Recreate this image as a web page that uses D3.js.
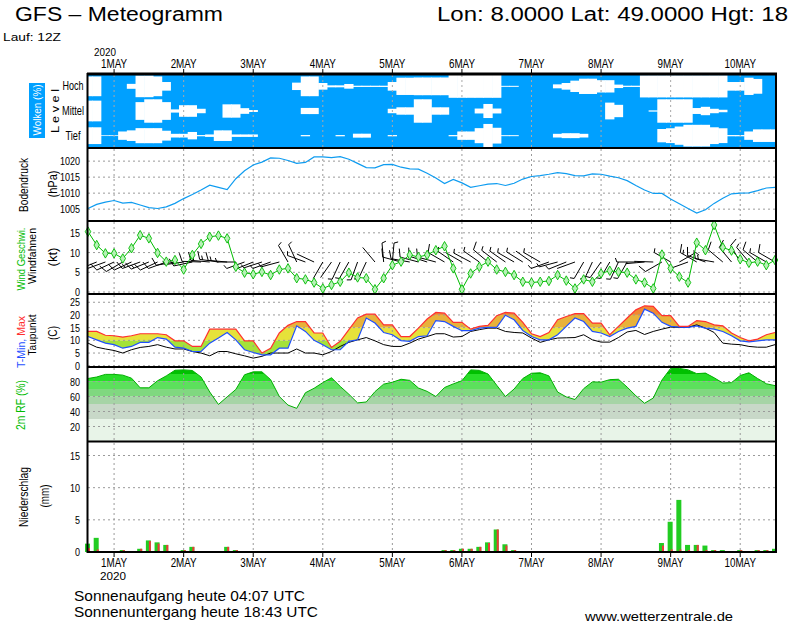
<!DOCTYPE html>
<html>
<head>
<meta charset="utf-8">
<script src="https://cdn.jsdelivr.net/npm/d3@7"></script>
<style>
  body { margin: 0; background: #fff; }
  svg { display: block; }
</style>
</head>
<body>
<svg id="chart"></svg>
<script>
// GFS run 12Z, 3-hourly steps, hours counted from 1 May 00Z
const steps = d3.range(-9, 229, 3);
const dayNames = ["1MAY", "2MAY", "3MAY", "4MAY", "5MAY", "6MAY", "7MAY", "8MAY", "9MAY", "10MAY"];
const dayHours = [0, 24, 48, 72, 96, 120, 144, 168, 192, 216];

// cloud cover (%) per level
const cloudHigh = [80,80,0,0,0,20,88,88,80,35, 0,0,0,0,0,0,0,0,0,0, 0,0,0,0,30,80,80,27,8,8,
  19,5,5,5,5,35,70,70,72,72, 72,72,93,93,93,93,93,93,4,4, 0,0,0,0,16,27,46,62,62,50,
  50,14,5,5,90,90,90,90,90,90, 90,90,90,90,35,35,70,60,0,0];
const cloudMid = [84,84,0,0,0,0,72,95,95,72, 13,47,47,18,0,0,54,54,23,8, 0,0,0,0,0,25,25,0,0,0,
  0,0,0,0,0,18,30,30,95,95, 30,30,0,0,0,20,57,20,0,0, 0,0,0,0,0,0,0,0,0,0,
  68,50,0,0,0,5,95,95,95,95, 24,34,18,10,0,0,0,0,0,0];
const cloudLow = [68,68,3,3,34,43,61,61,61,40, 15,15,30,5,10,43,43,10,10,10, 0,0,0,0,0,5,0,0,0,5,
  0,16,16,0,0,5,0,0,0,0, 0,0,5,34,34,61,95,64,4,4, 0,0,0,0,15,20,20,15,0,0,
  0,0,0,0,0,0,54,60,74,88, 88,88,68,60,5,5,34,51,51,51];

// surface pressure (hPa)
const pressure = [1005.2,1006.5,1007.2,1007.7,1006.9,1007.1,1006.3,1005.5,1005.2,1005.7,
  1006.8,1008.3,1009.6,1011.0,1012.5,1011.8,1011.1,1014.5,1017.0,1018.8,
  1019.7,1021.0,1020.9,1020.2,1019.3,1019.6,1021.3,1021.3,1021.1,1021.4,
  1020.6,1019.3,1018.0,1017.9,1018.9,1019.0,1018.1,1017.6,1017.5,1016.2,
  1014.7,1013.0,1014.3,1013.2,1011.8,1012.3,1012.8,1013.0,1012.4,1013.1,
  1014.4,1015.2,1015.5,1015.9,1016.4,1016.1,1015.5,1015.4,1016.0,1015.9,
  1015.3,1014.8,1013.9,1012.4,1011.0,1009.9,1009.9,1008.2,1006.7,1005.2,
  1003.8,1004.8,1006.8,1008.4,1009.8,1010.0,1010.1,1010.8,1011.6,1011.8];

// wind speed (kt) and direction (deg, coming from)
const windSpeed = [15.3,11.9,9.8,9.8,8.5,11.1,14.4,13.6,9.9,7.7, 8.1,5.7,9.4,12.2,14.0,14.3,13.6,6.4,4.9,4.5,
  5.1,4.3,5.7,6.0,3.5,3.2,2.4,0.9,1.8,2.6, 4.9,3.7,3.5,0.7,3.5,6.8,7.7,9.4,8.9,9.4,
  10.6,11.6,6.0,0.7,4.7,6.4,7.7,5.7,5.1,4.3, 2.6,2.4,2.6,2.8,4.3,2.9,0.9,3.2,2.6,4.7,
  5.4,5.1,4.9,3.2,2.4,0.9,9.5,6.0,3.9,2.4, 12.5,10.6,17.0,11.3,10.5,8.3,7.4,7.7,6.8,8.1];
const windDir = [245,248,250,245,240,245,250,248,245,250, 260,262,258,272,275,278,275,270, 250,248,252,250,255,
  330,335, 290,295, 210,215,205,210, 200,205, 320, 355,5, 285,280,285,288,285, 300,305,300,298,
  305,310,308,305,300,302,305,300, 250,255,248,250, 210,205,215,210,205,210, 270,265,272,
  240,300,60,250,300,290,280, 310,320,330,320,310,300,300];

// 2m temperature min / max and dew point (C)
const tMax = [13.5,13.5,12.0,11.8,11.3,11.8,12.6,12.6,12.6,12.2, 9.8,9.8,7.6,7.6,14.4,14.4,14.4,14.4,9.8,9.8,
  5.0,6.9,12.9,15.9,17.4,17.4,12.9,12.9,7.2,9.6, 14.2,18.8,20.3,20.3,16.1,16.1,11.5,11.5,14.8,18.4,
  21.0,20.7,17.1,17.1,14.4,15.5,15.9,19.7,21.0,20.7, 17.1,12.6,11.5,13.1,18.1,19.4,20.5,20.5,16.8,16.8,
  12.2,15.5,18.8,22.0,23.6,23.4,19.7,19.7,15.5,15.5, 17.8,17.4,16.1,15.7,12.9,11.1,9.8,10.5,12.2,13.1];
const tMin = [11.5,10.2,8.9,8.3,6.9,7.6,9.2,9.2,11.1,10.5, 7.3,6.9,5.6,5.6,8.9,10.9,13.1,10.2,6.3,5.2,
  4.3,4.3,6.9,6.9,15.7,13.5,10.0,8.3,6.3,6.3, 9.6,10.2,18.8,16.8,13.1,12.2,9.9,9.6,11.5,11.8,
  17.8,17.4,15.5,13.8,13.8,14.8,15.1,15.1,19.9,18.1, 13.9,11.5,10.2,10.2,12.2,15.5,18.8,17.4,13.5,12.9,
  11.5,13.5,14.8,15.5,22.3,20.7,17.1,15.5,15.2,15.1, 15.7,14.8,14.4,13.5,11.8,9.8,9.4,9.8,10.2,10.2];
const dewPoint = [8.9,7.3,6.6,6.0,5.0,6.3,7.2,7.6,8.3,7.3, 6.6,6.6,5.6,5.0,3.9,5.6,5.6,4.7,3.9,3.0,
  3.7,5.0,5.0,5.0,6.6,5.0,5.0,4.3,5.6,7.6, 9.2,10.2,11.1,9.8,8.3,7.6,7.6,8.9,10.5,11.5,
  12.6,12.6,11.3,11.5,13.5,14.2,14.8,14.8,13.5,13.1, 12.9,10.9,9.2,10.2,10.9,11.0,11.1,12.2,10.2,9.3,
  9.3,11.1,13.3,13.9,12.3,13.5,14.4,15.2,15.1,15.1, 16.1,14.8,13.1,8.9,8.5,8.3,7.6,7.3,7.3,8.3];

// 2m relative humidity (%)
const relHum = [84,86,89.5,89.5,88.5,84.5,71.6,71.6,81,87.5, 95,95.5,94.7,86,66,49.4,59.5,69.4,89,92.9,
  92.9,82.5,60,48.5,44.2,65,71,78.5,85,73.5, 63,51.5,52.7,66.5,76.5,79,83,81.5,71.3,66.8,
  60,72,76.8,81,95.5,94.8,90,75,60,70, 84,91,91.6,87.5,66,59.5,56,70.5,79.5,79.1,
  82.5,83,72.5,61,51,58,82,97.5,97.5,95.5, 90.5,91.2,85,78,78.5,88,91.6,84,77,74.5];

// precipitation per 3h (mm): total and convective
const precTotal = [1.3,2.2,0,0,0.3,0.1,0.5,1.8,1.5,1.1, 0.1,0.3,0.8,0,0.1,0.1,0.8,0.3,0,0,
  0,0,0,0,0,0,0,0,0,0, 0,0,0,0.1,0,0,0,0,0,0,
  0,0.3,0.3,0.5,0.5,0.8,1.5,3.5,1.2,0.3, 0.1,0,0,0,0,0.1,0,0,0,0,
  0,0,0,0,0,0,1.4,4.7,8.1,1.1, 1.1,1.0,0.3,0.3,0,0.3,0.1,0.3,0.3,0.5];
const precConv = [0.6,0.4,0,0,0.3,0.1,0.5,1.7,1.3,1.1, 0.1,0.3,0.8,0,0.1,0.1,0.8,0.3,0,0,
  0,0,0,0,0,0,0,0,0,0, 0,0,0,0.1,0,0,0,0,0,0,
  0,0.3,0.3,0.5,0.5,0.8,1.4,3.5,1.0,0.3, 0.1,0,0,0,0,0.1,0,0,0,0,
  0,0,0,0,0,0,1.0,0.4,0.4,0.3, 1.1,0.3,0.3,0.1,0,0.3,0.1,0.3,0.3,0.5];

const FONT = "'Liberation Sans',Arial,sans-serif";
const X0 = 88, X1 = 775;

const svg = d3.select("#chart")
  .attr("width", 800)
  .attr("height", 625)
  .style("font-family", FONT);

const x = d3.scaleLinear().domain([-9, 228]).range([X0, X1]);
const stepW = x(3) - x(0);

const yP = d3.scaleLinear().domain([1001.3, 1024.1]).range([221, 148]);
const yW = d3.scaleLinear().domain([-0.5, 18]).range([294, 221]);
const yT = d3.scaleLinear().domain([-0.5, 28.25]).range([367, 294]);
const yH = d3.scaleLinear().domain([0, 100]).range([441.5, 366.5]);
const yR = d3.scaleLinear().domain([0, 17.1]).range([552, 442]);

const defs = svg.append("defs");
function clipRect(id, x0, y0, x1, y1) {
  defs.append("clipPath").attr("id", id)
    .append("rect").attr("x", x0).attr("y", y0).attr("width", x1 - x0).attr("height", y1 - y0);
  return "url(#" + id + ")";
}

function hGrid(scale, ticks) {
  svg.append("g").selectAll("line").data(ticks).join("line")
    .attr("x1", X0).attr("x2", X1)
    .attr("y1", d => scale(d)).attr("y2", d => scale(d))
    .attr("stroke", "#9a9a9a").attr("stroke-dasharray", "2,3");
}

function vGrid(y0, y1, color) {
  svg.append("g").selectAll("line").data(dayHours).join("line")
    .attr("x1", d => x(d)).attr("x2", d => x(d))
    .attr("y1", y0).attr("y2", y1)
    .attr("stroke", color || "#9a9a9a").attr("stroke-dasharray", "2,3");
}

// narrow tick labels (the original uses a condensed stroke font)
function yLabels(scale, ticks) {
  svg.append("g")
    .selectAll("text").data(ticks).join("text")
    .attr("transform", d => `translate(80,${scale(d) + 4}) scale(0.82,1)`)
    .attr("text-anchor", "end").attr("font-size", 11)
    .text(d => d);
}

function sideLabel(txt, cx, cy, size, len, color) {
  return svg.append("text")
    .attr("transform", `translate(${cx},${cy}) rotate(-90)`)
    .attr("text-anchor", "middle").attr("font-size", size)
    .attr("fill", color || "#000")
    .attr("textLength", len).attr("lengthAdjust", "spacingAndGlyphs")
    .text(txt);
}

// ---------- header ----------
svg.append("text").attr("x", 15).attr("y", 21).attr("font-size", 20)
  .attr("textLength", 208).attr("lengthAdjust", "spacingAndGlyphs")
  .text("GFS \u2013 Meteogramm");
svg.append("text").attr("x", 437).attr("y", 21).attr("font-size", 20)
  .attr("textLength", 351).attr("lengthAdjust", "spacingAndGlyphs")
  .text("Lon: 8.0000 Lat: 49.0000 Hgt: 18");
svg.append("text").attr("x", 3).attr("y", 41).attr("font-size", 10)
  .attr("textLength", 58).attr("lengthAdjust", "spacingAndGlyphs")
  .text("Lauf: 12Z");

svg.append("text").attr("x", x(0) - 20).attr("y", 56).attr("font-size", 10)
  .attr("textLength", 22).attr("lengthAdjust", "spacingAndGlyphs").text("2020");
svg.append("g").selectAll("text").data(dayNames).join("text")
  .attr("transform", (d, i) => `translate(${x(dayHours[i])},68) scale(0.82,1)`)
  .attr("text-anchor", "middle").attr("font-size", 12)
  .text(d => d);

// ---------- clouds ----------
const bandH = (148 - 74) / 3;
const cloudClip = clipRect("cloudClip", X0, 74, X1, 148);
svg.append("rect").attr("x", X0).attr("y", 74).attr("width", X1 - X0).attr("height", 74)
  .attr("fill", "#00a0ff");
const gCloud = svg.append("g").attr("clip-path", cloudClip);
[cloudHigh, cloudMid, cloudLow].forEach((level, k) => {
  const cy = 74 + bandH * (k + 0.5);
  gCloud.append("g").selectAll("rect").data(level).join("rect")
    .attr("x", (d, i) => x(steps[i]) - stepW / 2 - 0.3)
    .attr("width", stepW + 0.6)
    .attr("y", d => cy - d / 100 * bandH / 2)
    .attr("height", d => d / 100 * bandH)
    .attr("fill", "#fff");
});
vGrid(75, 147, "#a8a8a8");

svg.append("rect").attr("x", 29).attr("y", 83).attr("width", 16).attr("height", 55).attr("fill", "#00a0ff");
sideLabel("Wolken (%)", 41, 110, 11, 51, "#fff");
sideLabel("L e v e l", 59, 111, 11, 44);
const levelNames = ["Hoch", "Mittel", "Tief"];
const levelLen = [21, 22, 15];
svg.append("g").selectAll("text").data(levelNames).join("text")
  .attr("x", 73).attr("y", (d, i) => 74 + bandH * (i + 0.5) + 4)
  .attr("text-anchor", "middle").attr("font-size", 12)
  .attr("textLength", (d, i) => levelLen[i]).attr("lengthAdjust", "spacingAndGlyphs")
  .text(d => d);

// ---------- pressure ----------
hGrid(yP, [1005, 1010, 1015, 1020]);
vGrid(149, 220);
svg.append("path").datum(pressure)
  .attr("d", d3.line().x((d, i) => x(steps[i])).y(d => yP(d)))
  .attr("fill", "none").attr("stroke", "#0f9cf0").attr("stroke-width", 1.2);
yLabels(yP, [1005, 1010, 1015, 1020]);
sideLabel("Bodendruck", 28, 185, 12, 54);
sideLabel("(hPa)", 57, 184, 12, 27);

// ---------- wind ----------
hGrid(yW, [0, 5, 10, 15]);
vGrid(222, 293);
const gBarb = svg.append("g").attr("clip-path", clipRect("windClip", X0, 221, X1, 294))
  .attr("stroke", "#000").attr("stroke-width", 1).attr("fill", "none");
windDir.forEach((dir, i) => {
  const cx = x(steps[i]), cy = 262, L = 19;
  const a = dir * Math.PI / 180;
  const ux = Math.sin(a), uy = -Math.cos(a);
  const px = -uy, py = ux;
  const tx = cx + L * ux, ty = cy + L * uy;
  let p = `M${cx},${cy}L${tx},${ty}`;
  const n = Math.round(windSpeed[i] / 5);
  const full = Math.floor(n / 2), half = n % 2;
  for (let k = 0; k < full; k++) {
    const sx = tx - k * 3 * ux, sy = ty - k * 3 * uy;
    p += `M${sx},${sy}L${sx + 8 * px + 3 * ux},${sy + 8 * py + 3 * uy}`;
  }
  if (half) {
    const sx = tx - full * 3 * ux, sy = ty - full * 3 * uy;
    p += `M${sx},${sy}L${sx + 4 * px + 1.5 * ux},${sy + 4 * py + 1.5 * uy}`;
  }
  gBarb.append("path").attr("d", p);
});
svg.append("path").datum(windSpeed)
  .attr("d", d3.line().x((d, i) => x(steps[i])).y(d => yW(d)))
  .attr("fill", "none").attr("stroke", "#00bb00").attr("stroke-width", 1);
svg.append("g").selectAll("path").data(windSpeed).join("path")
  .attr("transform", (d, i) => `translate(${x(steps[i])},${yW(d)})`)
  .attr("d", d3.symbol(d3.symbolDiamond, 26))
  .attr("fill", "#b8f0b8").attr("stroke", "#00bb00").attr("stroke-width", 0.9);
yLabels(yW, [0, 5, 10, 15]);
sideLabel("Wind Geschwi.", 25, 259, 11, 63, "#00bb00");
sideLabel("Windfahnen", 36, 256, 11, 56);
sideLabel("(kt)", 57, 257, 12, 19);

// ---------- temperature ----------
const tempBands = [[-5, 10, "#a4e23a"], [10, 15, "#e6e23a"], [15, 20, "#e8b23a"], [20, 25, "#f08a32"], [25, 35, "#f06030"]];
defs.append("clipPath").attr("id", "tempArea").append("path").datum(tMax)
  .attr("d", d3.area().x((d, i) => x(steps[i])).y0((d, i) => yT(tMin[i])).y1(d => yT(d)));
svg.append("g").attr("clip-path", "url(#tempArea)")
  .selectAll("rect").data(tempBands).join("rect")
  .attr("x", X0).attr("width", X1 - X0)
  .attr("y", d => yT(d[1])).attr("height", d => yT(d[0]) - yT(d[1]))
  .attr("fill", d => d[2]);
hGrid(yT, [0, 5, 10, 15, 20, 25]);
vGrid(295, 366);
const tLine = d3.line().x((d, i) => x(steps[i])).y(d => yT(d));
svg.append("path").datum(dewPoint).attr("d", tLine).attr("fill", "none").attr("stroke", "#000");
svg.append("path").datum(tMin).attr("d", tLine).attr("fill", "none").attr("stroke", "#1f4fff").attr("stroke-width", 1.2);
svg.append("path").datum(tMax).attr("d", tLine).attr("fill", "none").attr("stroke", "#ff3030").attr("stroke-width", 1.2);
yLabels(yT, [0, 5, 10, 15, 20, 25]);
const tl = svg.append("text")
  .attr("transform", "translate(25,342) rotate(-90)")
  .attr("text-anchor", "middle").attr("font-size", 11)
  .attr("textLength", 52).attr("lengthAdjust", "spacingAndGlyphs");
tl.append("tspan").attr("fill", "#1f4fff").text("T-Min, ");
tl.append("tspan").attr("fill", "#ff3030").text("Max");
sideLabel("Taupunkt", 36, 335, 11, 41);
sideLabel("(C)", 57, 333, 12, 14);

// ---------- relative humidity ----------
const rhBands = [[0, 30, "#e8f4e8"], [30, 50, "#c8d8c8"], [50, 60, "#a6d4a6"], [60, 70, "#80d880"],
  [70, 80, "#5ce05c"], [80, 90, "#28dd28"], [90, 100, "#00c000"]];
defs.append("clipPath").attr("id", "rhArea").append("path").datum(relHum)
  .attr("d", d3.area().x((d, i) => x(steps[i])).y0(yH(0)).y1(d => yH(d)));
svg.append("g").attr("clip-path", "url(#rhArea)")
  .selectAll("rect").data(rhBands).join("rect")
  .attr("x", X0).attr("width", X1 - X0)
  .attr("y", d => yH(d[1])).attr("height", d => yH(d[0]) - yH(d[1]))
  .attr("fill", d => d[2]);
hGrid(yH, [20, 40, 60, 80]);
vGrid(368, 441);
svg.append("path").datum(relHum)
  .attr("d", d3.line().x((d, i) => x(steps[i])).y(d => yH(d)))
  .attr("fill", "none").attr("stroke", "#00b000").attr("stroke-width", 1);
yLabels(yH, [20, 40, 60, 80]);
sideLabel("2m  RF  (%)", 25, 405, 12, 50, "#00bb00");

// ---------- precipitation ----------
hGrid(yR, [5, 10, 15]);
vGrid(443, 551);
svg.append("g").selectAll("rect").data(precTotal).join("rect")
  .attr("x", (d, i) => x(steps[i]) - 3).attr("width", 5)
  .attr("y", d => yR(d)).attr("height", d => yR(0) - yR(d))
  .attr("fill", "#22cc22");
svg.append("g").selectAll("rect").data(precConv).join("rect")
  .attr("x", (d, i) => x(steps[i])).attr("width", 2)
  .attr("y", d => yR(d)).attr("height", d => yR(0) - yR(d))
  .attr("fill", "#ee3838");
yLabels(yR, [0, 5, 10, 15]);
sideLabel("Niederschlag", 28, 497, 12, 60);
sideLabel("(mm)", 49, 496, 12, 23);

// ---------- frames and axes ----------
const frame = svg.append("g").attr("stroke", "#000");
frame.append("line").attr("x1", X0 - 1).attr("x2", X1 + 2).attr("y1", 74).attr("y2", 74).attr("stroke-width", 3);
[148, 221, 294, 367, 441.5].forEach(y => {
  frame.append("line").attr("x1", X0 - 1).attr("x2", X1 + 2).attr("y1", y).attr("y2", y).attr("stroke-width", 2);
});
frame.append("line").attr("x1", X0 - 1).attr("x2", X1 + 2).attr("y1", 552).attr("y2", 552).attr("stroke-width", 2);
frame.append("line").attr("x1", X0 - 0.5).attr("x2", X0 - 0.5).attr("y1", 73).attr("y2", 553).attr("stroke-width", 2);
frame.append("line").attr("x1", X1 + 1).attr("x2", X1 + 1).attr("y1", 73).attr("y2", 553).attr("stroke-width", 2);
frame.append("g").selectAll("line").data(dayHours).join("line")
  .attr("x1", d => x(d)).attr("x2", d => x(d)).attr("y1", 69).attr("y2", 74);
frame.append("g").selectAll("line").data(dayHours).join("line")
  .attr("x1", d => x(d)).attr("x2", d => x(d)).attr("y1", 552).attr("y2", 557);

svg.append("g").selectAll("text").data(dayNames).join("text")
  .attr("transform", (d, i) => `translate(${x(dayHours[i])},567) scale(0.82,1)`)
  .attr("text-anchor", "middle").attr("font-size", 12)
  .text(d => d);
svg.append("text").attr("x", x(0) - 14).attr("y", 580).attr("font-size", 11)
  .attr("textLength", 26).attr("lengthAdjust", "spacingAndGlyphs").text("2020");

// ---------- footer ----------
svg.append("text").attr("x", 74).attr("y", 601).attr("font-size", 15)
  .attr("textLength", 231).attr("lengthAdjust", "spacingAndGlyphs")
  .text("Sonnenaufgang heute 04:07 UTC");
svg.append("text").attr("x", 74).attr("y", 617).attr("font-size", 15)
  .attr("textLength", 244).attr("lengthAdjust", "spacingAndGlyphs")
  .text("Sonnenuntergang heute 18:43 UTC");
svg.append("text").attr("x", 585).attr("y", 621).attr("font-size", 13)
  .attr("textLength", 148).attr("lengthAdjust", "spacingAndGlyphs")
  .text("www.wetterzentrale.de");
</script>
</body>
</html>
